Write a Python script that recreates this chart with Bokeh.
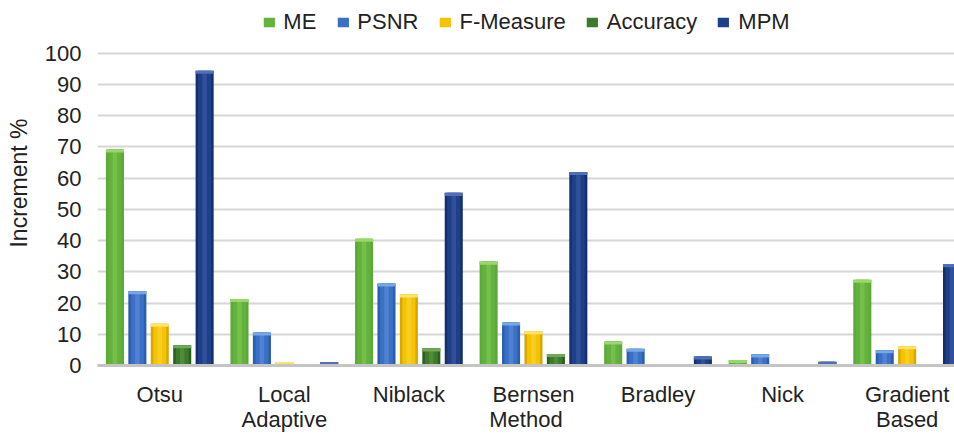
from bokeh.plotting import figure
from bokeh.models import ColumnDataSource, FixedTicker, Legend, LegendItem, Range1d
from bokeh.embed import file_html
from bokeh.resources import INLINE

# Improvement (%) of each binarization method, per quality measure
methods = ["Otsu", "Local\nAdaptive", "Niblack", "Bernsen", "Bradley", "Nick", "Gradient\nBased"]
me = [69.2, 21.3, 40.6, 33.3, 7.7, 1.8, 27.5]
psnr = [23.8, 10.6, 26.3, 13.8, 5.4, 3.6, 4.9]
fmeasure = [13.4, 1.1, 22.8, 11.0, 0.4, 0.0, 6.2]
accuracy = [6.5, 0.0, 5.5, 3.7, 0.0, 0.0, 0.5]
mpm = [94.4, 1.1, 55.3, 62.0, 2.9, 1.2, 32.5]
y_ticks = [0, 10, 20, 30, 40, 50, 60, 70, 80, 90, 100]

series = [
    ("ME", me, "#5ea838", "#63b23d", "#9ad66a"),
    ("PSNR", psnr, "#2b5db0", "#3a70c6", "#78a6e6"),
    ("F-Measure", fmeasure, "#d9a800", "#f4c400", "#ffe36a"),
    ("Accuracy", accuracy, "#2c5e1f", "#3e7a2c", "#72a85a"),
    ("MPM", mpm, "#152f6c", "#1f3f88", "#4f70b8"),
]

FONT = "Liberation Sans"
step = 0.18
bar_w = 0.145

# the extra headroom above 100 holds the legend
p = figure(width=954, height=434, output_backend="svg", toolbar_location=None,
           x_range=Range1d(0, 6.88), y_range=Range1d(0, 116.9),
           min_border_left=97, min_border_right=0, min_border_top=0,
           min_border_bottom=0, outline_line_color=None)
p.background_fill_color = "white"
p.border_fill_color = "white"

items = []
for k, (name, vals, edge, main, light) in enumerate(series):
    xs = [i + 0.5 + (k - 2) * step for i in range(len(vals))]
    src = ColumnDataSource(dict(x=xs, top=vals,
                                cap=[max(v - 1.0, 0) for v in vals]))
    p.vbar(x="x", top="top", bottom=0, width=bar_w, source=src,
           fill_color=edge, line_color=None)
    r = p.vbar(x="x", top="top", bottom=0, width=bar_w * 0.72, source=src,
               fill_color=main, line_color=None)
    p.vbar(x="x", top="top", bottom=0, width=bar_w * 0.25, source=src,
           fill_color=light, fill_alpha=0.35, line_color=None)
    p.vbar(x="x", top="top", bottom="cap", width=bar_w, source=src,
           fill_color=light, line_color=None)
    items.append(LegendItem(label=name, renderers=[r]))

# y axis
p.yaxis.ticker = FixedTicker(ticks=y_ticks)
p.yaxis.axis_line_color = None
p.yaxis.major_tick_line_color = None
p.yaxis.minor_tick_line_color = None
p.yaxis.major_label_standoff = 10
p.yaxis.major_label_text_font = FONT
p.yaxis.major_label_text_font_size = "22px"
p.yaxis.major_label_text_color = "#222222"
p.yaxis.axis_label = "Increment %"
p.yaxis.axis_label_text_font = FONT
p.yaxis.axis_label_text_font_size = "23px"
p.yaxis.axis_label_text_font_style = "normal"
p.yaxis.axis_label_text_color = "#222222"
p.yaxis.axis_label_standoff = 10

# x axis
p.xaxis.ticker = FixedTicker(ticks=[i + 0.5 for i in range(len(methods))])
p.xaxis.major_label_overrides = {i + 0.5: m for i, m in enumerate(methods)}
p.xaxis.axis_line_color = "#c4c4c4"
p.xaxis.axis_line_width = 3
p.xaxis.major_tick_line_color = None
p.xaxis.minor_tick_line_color = None
p.xaxis.major_label_standoff = 10
p.xaxis.major_label_text_font = FONT
p.xaxis.major_label_text_font_size = "22px"
p.xaxis.major_label_text_line_height = 1.0
p.xaxis.major_label_text_color = "#222222"
p.xaxis.axis_label = "Method"
p.xaxis.axis_label_text_font = FONT
p.xaxis.axis_label_text_font_size = "22px"
p.xaxis.axis_label_text_font_style = "normal"
p.xaxis.axis_label_text_color = "#222222"
p.xaxis.axis_label_standoff = -28

p.xgrid.grid_line_color = None
p.ygrid.grid_line_color = "#d6d6d6"
p.ygrid.grid_line_width = 2

legend = Legend(items=items, orientation="horizontal", location="top_center",
                label_text_font=FONT, label_text_font_size="22px",
                label_text_color="#222222", glyph_width=14, glyph_height=12,
                label_standoff=8, spacing=19, padding=4, margin=9,
                border_line_color=None, background_fill_alpha=0)
p.add_layout(legend)

open("out.html", "w").write(file_html(p, INLINE))
